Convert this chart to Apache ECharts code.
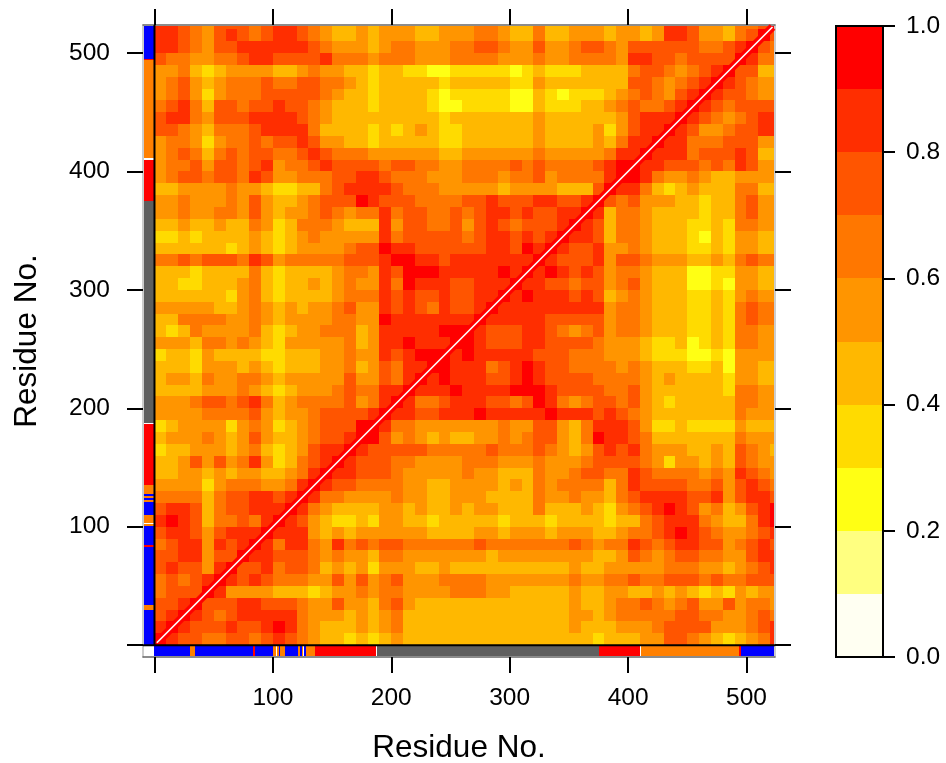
<!DOCTYPE html>
<html><head><meta charset="utf-8">
<style>html,body{margin:0;padding:0;background:#fff}#c{width:946px;height:763px}</style>
<script src="https://cdn.jsdelivr.net/npm/echarts@6/dist/echarts.min.js"></script>
</head><body><div id="c"></div>
<script>
// Correlation, per 10-residue bin, lower triangle (row = y bin, column = x bin).
// Each digit d is the band d/10 .. (d+1)/10.
const corrBands = [
"9","89","789","7789","67779","676789","7877589","77885779","678858789","7887578889",
"8987466768 9","7887467788 89","6666467788 789","5555356665 5689","4455454554 45689",
"4457575685 346789","3445554564 3457889","4555654575 4456778 9","3455553565 3456777 99",
"5555666675 4556777 789","5556776786 4566667 5689","4444555654 3455567 66889",
"4554655665 4555557 557689","4443555454 3444556 4576889","3443544443 3444556 55878999",
"5554665654 3555556 458898889","4346555564 3455666 4588888999","4466665565 4555566 55988888889",
"5555544565 4545567 558787687789","4444443564 3444456 6687877877889",
"4433444564 3445456 55869888778889","4443444464 3444456 658799988888989",
"6676777687 5666667 7789988788888889","4444443454 3455556 77988777777887989",
"3343444454 3456555 558677777678878789","4454454465 3466654 4485776675787677789",
"5565566575 4556765 66867766767887877889","5565556575 4456777 987776666778777887789",
"4455556554 3344678888 7666555554 555544479","5677677687 5566677887 6665556665 6675666689",
"5667577678 5667877776 7766556666 7676666789 9","5676467677 6678766655 5555445555 5565555568 89",
"5665356676 7787554434 4444334444 4454444546 889","7765466678 8886444434 3454334444 4454444535 7889",
"7886577788 8876544444 4444344444 4454444445 78889","6786477677 8776544434 4443223333 2243334456 766789",
"5675356667 7777654434 4443233333 2243233345 6765789","5675456667 6677665434 4444344444 3354444444 77656789",
"5564345555 4456554434 4332233333 2343334444 677656789","7665566788 7777866656 6655566665 5565566665 8877677779",
"8876577888 8887655545 6655566776 5575567765 7777776678 9","8876578767 8876544545 5544555665 4464455545 5458875546 79",
"8876577767 8876544545 5544555665 4464455545 5458875546 679"
];
// Cells below the diagonal that differ from their mirror: y bins 0..10, x bins 17..52.
const bottomBands = [
"43454444444444 444444344 4557765434568","54564444444444 444454445 5567777555678",
"54564444444444 444455456 6666776655676","54675444444444 444454456 6765675575665",
"65665555666554 444454455 4454543435455","75675556666555 555565566 7667776766777",
"53555445444444 444454455 5556665545678","54665555555455 555555445 7656776655788",
"76776666667666 666676566 8767887756787","55555544445545 554555445 6678987655678",
"43554434444434 443444434 4678886544689"
];
const bottomFirstBin = 17;
// y bins 11..16, x bins 40..52.
const cornerBands = ["6789875645789","7888877857887","8777766757876","8766665658765","7653554547655","8655544547654"];
const cornerFirstRow = 11;
const cornerFirstBin = 40;
const binSize = 10;
const lastResidue = 523;
const bandColors = ["#FFFFF2","#FFFF80","#FFFF14","#FFDB00","#FFB800","#FF9500","#FF7700","#FF5500","#FF2E00","#FF0000"];
const bandEdges = [0,0.1,0.2,0.3,0.4,0.5,0.6,0.7,0.8,0.9,1];
const sseStart = [0,30,34,83,85,100.3,103.4,105.4,106,110.2,121.2,122.9,124.3,126.3,127.6,135.5,188,375.4,411,494,495];
const sseEnd   = [30,34,83,85,100.3,102.3,105.4,106,110.2,121.2,122.9,124.3,125.7,127.6,135.5,187,375.4,410,494,495,523];
const sseType  = ["E","T","E","H","E","T","T","E","T","E","T","E","T","E","T","H","C","H","T","H","E"];
const sseColors = {E:"#0000FF",T:"#FF8000",H:"#FF0000",C:"#5F5F5F"};
const residueTicks = [0,100,200,300,400,500];
const residueLabels = [100,200,300,400,500];
const barTicks = [0,0.2,0.4,0.6,0.8,1];
const diagonalEnds = [[2,2],[522,522]];
const axisZeroX = [[0,0],[0,523.7]];
const axisZeroY = [[-9.7,0],[524.1,0]];

const grid2d = corrBands.map(()=>[]);
corrBands.forEach((s,j)=>{
  s.replace(/ /g,"").split("").forEach((d,i)=>{ grid2d[j][i]=+d; grid2d[i][j]=+d; });
});
bottomBands.forEach((s,j)=>{
  s.replace(/ /g,"").split("").forEach((d,k)=>{ grid2d[j][bottomFirstBin+k]=+d; });
});
cornerBands.forEach((s,n)=>{
  s.split("").forEach((d,k)=>{ grid2d[cornerFirstRow+n][cornerFirstBin+k]=+d; });
});
const cells = [];
grid2d.forEach((row,j)=>row.forEach((d,i)=>cells.push([i*binSize,j*binSize,d])));

const xMin=-9.7,xMax=524.1,yMin=-10,yMax=523.7;
const FONT="Liberation Sans";
const tickStyle={show:true,length:16,customValues:residueTicks,lineStyle:{color:"#000",width:2}};
function rectFrom(api,x0,y0,x1,y1,fill){
  const a=api.coord([x0,y0]),b=api.coord([x1,y1]);
  const l=Math.round(Math.min(a[0],b[0])),r=Math.round(Math.max(a[0],b[0]));
  const t=Math.round(Math.min(a[1],b[1])),bt=Math.round(Math.max(a[1],b[1]));
  return {type:"rect",shape:{x:l,y:t,width:r-l,height:bt-t},style:{fill:fill}};
}
const stripData=sseStart.map((s,k)=>[s,sseEnd[k]]);
const barData=bandColors.map((c,k)=>[bandEdges[k],bandEdges[k+1],k]);
const chart=echarts.init(document.getElementById("c"),null,{renderer:"canvas"});
chart.setOption({
  animation:false,
  backgroundColor:"#fff",
  textStyle:{fontFamily:FONT},
  grid:[
    {left:143,top:25,width:632,height:632,outerBoundsMode:"none"},
    {left:836,top:26,width:47,height:631,outerBoundsMode:"none"}
  ],
  xAxis:[
    {gridIndex:0,type:"value",min:xMin,max:xMax,position:"bottom",
     name:"Residue No.",nameLocation:"middle",nameGap:75,nameTextStyle:{fontSize:31.5,color:"#000",fontFamily:FONT},
     splitLine:{show:false},axisLine:{show:true,onZero:false,lineStyle:{color:"#666",width:1.5}},
     axisTick:tickStyle,
     axisLabel:{customValues:residueLabels,fontSize:24.5,color:"#000",margin:29,fontFamily:FONT}},
    {gridIndex:0,type:"value",min:xMin,max:xMax,position:"top",
     splitLine:{show:false},axisLine:{show:true,onZero:false,lineStyle:{color:"#666",width:1.5}},
     axisTick:tickStyle,axisLabel:{show:false}},
    {gridIndex:1,type:"value",min:0,max:1,show:false}
  ],
  yAxis:[
    {gridIndex:0,type:"value",min:yMin,max:yMax,position:"left",
     name:"Residue No.",nameLocation:"middle",nameGap:100,nameRotate:90,nameTextStyle:{fontSize:31.5,color:"#000",fontFamily:FONT},
     splitLine:{show:false},axisLine:{show:true,onZero:false,lineStyle:{color:"#bbb",width:1.5}},
     axisTick:tickStyle,
     axisLabel:{customValues:residueLabels,fontSize:24.5,color:"#000",margin:33,fontFamily:FONT}},
    {gridIndex:0,type:"value",min:yMin,max:yMax,position:"right",
     splitLine:{show:false},axisLine:{show:true,onZero:false,lineStyle:{color:"#bbb",width:1.5}},
     axisTick:tickStyle,axisLabel:{show:false}},
    {gridIndex:1,type:"value",min:0,max:1,position:"right",
     splitLine:{show:false},axisLine:{show:false,onZero:false},
     axisTick:{show:true,length:12,customValues:barTicks,lineStyle:{color:"#000",width:2}},
     axisLabel:{customValues:barTicks,fontSize:24.5,color:"#000",margin:23,fontFamily:FONT,formatter:v=>v.toFixed(1)}}
  ],
  series:[
    {type:"custom",name:"correlation",xAxisIndex:0,yAxisIndex:0,silent:true,clip:false,z:2,
     data:cells,
     renderItem:(p,api)=>{
       const x=api.value(0),y=api.value(1);
       return rectFrom(api,x,y,Math.min(x+binSize,lastResidue),Math.min(y+binSize,lastResidue),bandColors[api.value(2)]);
     }},
    {type:"line",name:"band",xAxisIndex:0,yAxisIndex:0,data:diagonalEnds,symbol:"none",silent:true,z:3,
     lineStyle:{color:"#FF0000",width:8,cap:"butt"}},
    {type:"line",name:"diagonal",xAxisIndex:0,yAxisIndex:0,data:diagonalEnds,symbol:"none",silent:true,z:4,
     lineStyle:{color:"#FFFFFF",width:1.6}},
    {type:"custom",name:"sse-bottom",xAxisIndex:0,yAxisIndex:0,silent:true,clip:false,z:3,
     data:stripData,
     renderItem:(p,api)=>rectFrom(api,api.value(0),-9.5,api.value(1),0,sseColors[sseType[p.dataIndex]])},
    {type:"custom",name:"sse-left",xAxisIndex:0,yAxisIndex:0,silent:true,clip:false,z:3,
     data:stripData,
     renderItem:(p,api)=>rectFrom(api,-9.2,api.value(0),0,api.value(1),sseColors[sseType[p.dataIndex]])},
    {type:"line",name:"zero-x",xAxisIndex:0,yAxisIndex:0,data:axisZeroX,symbol:"none",silent:true,z:5,
     lineStyle:{color:"#000",width:2}},
    {type:"line",name:"zero-y",xAxisIndex:0,yAxisIndex:0,data:axisZeroY,symbol:"none",silent:true,z:5,
     lineStyle:{color:"#000",width:2}},
    {type:"custom",name:"colorbar",xAxisIndex:2,yAxisIndex:2,silent:true,clip:false,z:2,
     data:barData,
     renderItem:(p,api)=>rectFrom(api,0,api.value(0),1,api.value(1),bandColors[api.value(2)])},
    {type:"custom",name:"colorbar-frame",xAxisIndex:2,yAxisIndex:2,silent:true,clip:false,z:3,
     data:[[0,1]],
     renderItem:(p,api)=>{
       const a=api.coord([0,0]),b=api.coord([1,1]);
       return {type:"rect",shape:{x:a[0],y:b[1],width:b[0]-a[0],height:a[1]-b[1]},style:{fill:"none",stroke:"#000",lineWidth:2}};
     }}
  ]
});
</script></body></html>
